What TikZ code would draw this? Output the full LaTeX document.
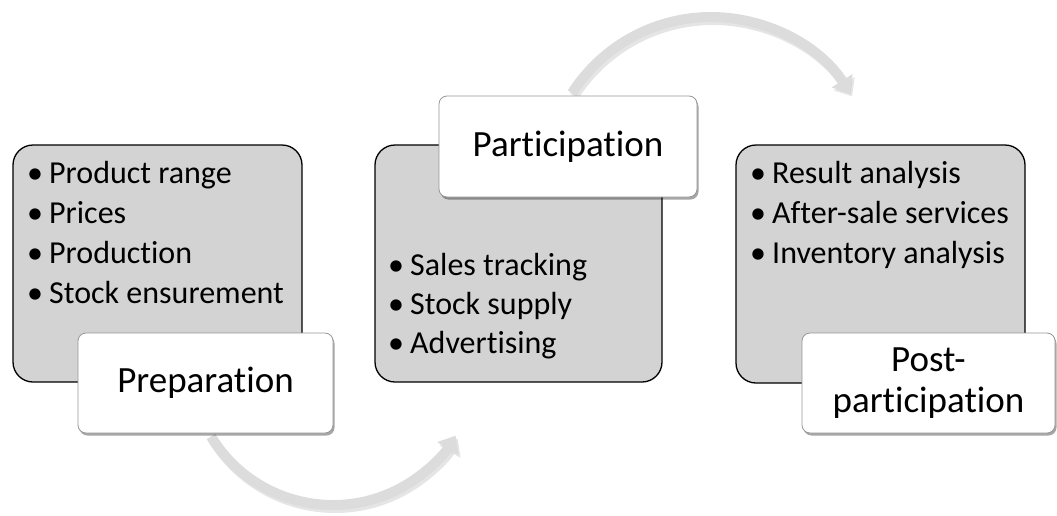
\documentclass[tikz,border=0pt]{standalone}
\usepackage{fontspec}
\setmainfont{Carlito}[Ligatures={NoCommon}]
\usetikzlibrary{arrows.meta,shadows}
\definecolor{boxgray}{RGB}{211,211,211}
\definecolor{arrowgray}{RGB}{220,220,220}
\definecolor{arrowshade}{RGB}{170,170,170}
\definecolor{labelborder}{RGB}{150,150,150}
\newcommand{\bul}{\makebox[23pt][l]{\hspace{1pt}•}}
\begin{document}
\begin{tikzpicture}[x=1pt,y=-1pt,
  panel/.style={draw=black, line width=1.3pt, fill=boxgray, rounded corners=20pt, inner sep=0pt},
  labelbox/.style={draw=labelborder, line width=0.8pt, fill=white, rounded corners=8pt,
    font=\fontsize{37}{41}\selectfont, align=center, inner sep=0pt,
    drop shadow={shadow xshift=1.5pt, shadow yshift=-2.5pt, opacity=0.35, fill=black}},
  item/.style={anchor=base west, inner sep=0pt, font=\fontsize{32}{40}\selectfont},
  cyclearrow/.style={draw=arrowgray, line width=10pt, -{Triangle[width=24pt,length=15pt]}},
  cycleshadow/.style={draw=arrowshade, opacity=0.3, line width=10pt, -{Triangle[width=24pt,length=15pt]}}
]
\useasboundingbox (0,0) rectangle (1057,515);
% panels
\node[panel, minimum width=289pt, minimum height=237pt] (p1) at (157.5,263.5) {};
\node[panel, minimum width=287pt, minimum height=237pt] (p2) at (518.5,263.5) {};
\node[panel, minimum width=289pt, minimum height=238pt] (p3) at (880.5,264) {};
% lists
\node[item] (a1) at (26,183) {\bul Product range};
\node[item] (a2) at (26,223) {\bul Prices};
\node[item] (a3) at (26,263) {\bul Production};
\node[item] (a4) at (26,303) {\bul Stock ensurement};
\node[item] (b1) at (387,275) {\bul Sales tracking};
\node[item] (b2) at (387,314) {\bul Stock supply};
\node[item] (b3) at (387,353) {\bul Advertising};
\node[item] (c1) at (749,183) {\bul Result analysis};
\node[item] (c2) at (749,223) {\bul After-sale services};
\node[item] (c3) at (749,263) {\bul Inventory analysis};
% arrows
\coordinate (cb) at (333,362);
\coordinate (ct) at (711,182);
\begin{scope}[shift={(2,3)}]
  \draw[cycleshadow] (333,362) ++(211.4:143pt) arc[start angle=211.4, end angle=329, radius=143pt];
  \draw[cycleshadow] (711,182) ++(147.4:165pt) arc[start angle=147.4, end angle=32.5, radius=165pt];
\end{scope}
\draw[cyclearrow] (cb) ++(211.4:143pt) arc[start angle=211.4, end angle=329, radius=143pt];
\draw[cyclearrow] (ct) ++(147.4:165pt) arc[start angle=147.4, end angle=32.5, radius=165pt];
% labels
\node[labelbox, minimum width=255pt, minimum height=100pt] (prep) at (205.5,383) {Preparation};
\node[labelbox, minimum width=258pt, minimum height=101pt] (part) at (568,146.5) {Participation};
\node[labelbox, minimum width=253pt, minimum height=100pt] (post) at (928.5,383) {Post-\\participation};
\end{tikzpicture}
\end{document}
